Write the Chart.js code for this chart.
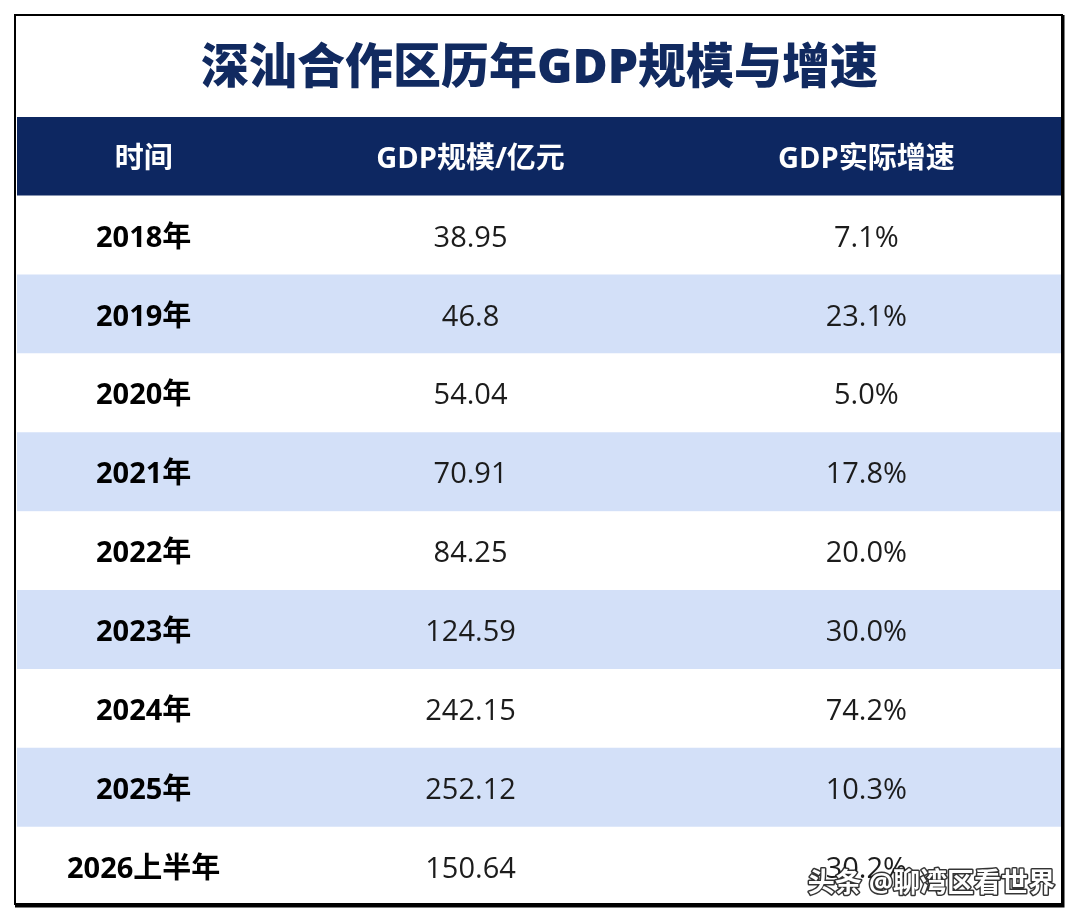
<!DOCTYPE html>
<html>
<head>
<meta charset="utf-8">
<script src="https://cdn.jsdelivr.net/npm/chart.js@4"></script>
<style>
  html, body { margin: 0; padding: 0; background: #fff; }
  canvas { display: block; }
</style>
</head>
<body>
<canvas id="table" width="1080" height="922"></canvas>
<script>
const headers = ["时间", "GDP规模/亿元", "GDP实际增速"];
const years = ["2018年", "2019年", "2020年", "2021年", "2022年", "2023年", "2024年", "2025年", "2026上半年"];
const gdp = [38.95, 46.8, 54.04, 70.91, 84.25, 124.59, 242.15, 252.12, 150.64];
const growth = [7.1, 23.1, 5.0, 17.8, 20.0, 30.0, 74.2, 10.3, 30.2];

// column edges as a fraction of the table width
const colEdges = [0, 0.2425, 0.6255, 1];
const NAVY = "#0d2761";
const STRIPE = "#d3e0f8";
const FONT = '"Open Sans", "Noto Sans CJK SC", sans-serif';
const TEXT_DY = 3; // nudge text down a little inside each band

const rowLabels = ["header"].concat(years);
const rowColors = rowLabels.map((r, i) => (i === 0 ? NAVY : i % 2 === 0 ? STRIPE : "#ffffff"));

const cellText = {
  id: "cellText",
  afterDatasetsDraw(chart) {
    const ctx = chart.ctx;
    const xs = chart.scales.x;
    const ys = chart.scales.y;
    const cx = colEdges.slice(0, 3).map((e, i) => xs.getPixelForValue((e + colEdges[i + 1]) / 2));
    ctx.save();
    ctx.textAlign = "center";
    ctx.textBaseline = "middle";
    // header
    ctx.fillStyle = "#ffffff";
    ctx.font = "bold 29px " + FONT;
    headers.forEach((h, c) => ctx.fillText(h, cx[c], ys.getPixelForValue(0) + TEXT_DY));
    years.forEach((y, i) => {
      const py = ys.getPixelForValue(i + 1) + TEXT_DY;
      ctx.fillStyle = "#000000";
      ctx.font = "bold 29px " + FONT;
      ctx.fillText(y, cx[0], py);
      ctx.fillStyle = "#1c1c1c";
      ctx.font = "29px " + FONT;
      ctx.fillText(String(gdp[i]), cx[1], py);
      ctx.fillText(growth[i].toFixed(1) + "%", cx[2], py);
    });
    ctx.restore();
  },
  afterDraw(chart) {
    const ctx = chart.ctx;
    ctx.save();
    // outer frame
    ctx.strokeStyle = "#000";
    ctx.lineWidth = 2;
    ctx.strokeRect(15, 15, 1047, 889);
    ctx.lineWidth = 3;
    ctx.beginPath();
    ctx.moveTo(1063, 15);
    ctx.lineTo(1063, 906);
    ctx.lineTo(15, 906);
    ctx.stroke();
    // watermark
    ctx.font = "bold 27px " + FONT;
    ctx.textAlign = "right";
    ctx.textBaseline = "middle";
    ctx.lineJoin = "round";
    ctx.lineWidth = 3;
    ctx.strokeStyle = "rgba(30,30,30,0.9)";
    ctx.strokeText("头条 @聊湾区看世界", 1055, 884);
    ctx.fillStyle = "#ffffff";
    ctx.fillText("头条 @聊湾区看世界", 1055, 884);
    ctx.restore();
  }
};

new Chart(document.getElementById("table").getContext("2d"), {
  type: "bar",
  data: {
    labels: rowLabels,
    datasets: [
      {
        data: rowLabels.map(() => [0, 1]),
        backgroundColor: rowColors,
        borderWidth: 0,
        barPercentage: 1,
        categoryPercentage: 1,
      },
    ],
  },
  options: {
    indexAxis: "y",
    responsive: false,
    animation: false,
    devicePixelRatio: 1,
    layout: { padding: { left: 17, right: 18, top: 0, bottom: 16 } },
    scales: {
      x: { type: "linear", min: 0, max: 1, display: false },
      y: { display: false },
    },
    plugins: {
      legend: { display: false },
      tooltip: { enabled: false },
      title: {
        display: true,
        text: "深汕合作区历年GDP规模与增速",
        color: "#112a60",
        font: { size: 48, weight: "900", family: FONT, lineHeight: 1.2 },
        padding: { top: 41, bottom: 18.4 },
      },
    },
  },
  plugins: [cellText],
});
</script>
</body>
</html>
